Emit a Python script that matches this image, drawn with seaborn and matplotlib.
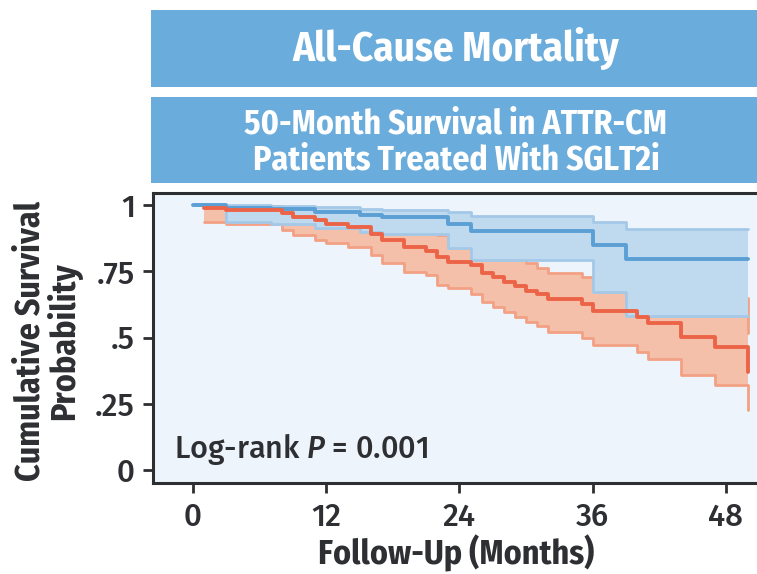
import numpy as np
import pandas as pd
import seaborn as sns
import matplotlib
matplotlib.use("Agg")
import matplotlib.pyplot as plt
from matplotlib import font_manager as fm
from matplotlib.patches import Rectangle

# ---------------- data ----------------
blue_t = [0, 3, 7, 11, 15, 17, 23, 25, 36, 39, 50]
blue_s = [1.0, 0.990, 0.985, 0.975, 0.962, 0.954, 0.927, 0.901, 0.849, 0.796, 0.796]
blue_lo = [1.0, 0.937, 0.927, 0.912, 0.899, 0.889, 0.837, 0.792, 0.670, 0.580, 0.580]
blue_hi = [1.0, 1.0, 0.998, 0.994, 0.985, 0.981, 0.975, 0.960, 0.937, 0.908, 0.908]

red_t = [1, 3, 8, 9, 11, 12, 14, 16, 17, 19, 21, 22, 23, 25, 26, 27, 28, 29, 30,
         31, 32, 35, 36, 40, 41, 44, 47, 50]
red_s = [0.990, 0.981, 0.969, 0.956, 0.943, 0.928, 0.916, 0.891, 0.868, 0.840,
         0.828, 0.805, 0.786, 0.774, 0.742, 0.727, 0.711, 0.696, 0.677, 0.664,
         0.645, 0.627, 0.600, 0.579, 0.555, 0.501, 0.465, 0.371]
red_hi = [1.0, 0.998, 0.99, 0.985, 0.978, 0.97, 0.96, 0.945, 0.93, 0.91, 0.90,
          0.887, 0.87, 0.86, 0.83, 0.815, 0.80, 0.795, 0.78, 0.761, 0.745, 0.729,
          0.71, 0.69, 0.67, 0.66, 0.649, 0.517]
red_lo = [0.935, 0.927, 0.904, 0.887, 0.868, 0.855, 0.843, 0.811, 0.78, 0.747,
          0.736, 0.698, 0.685, 0.665, 0.635, 0.616, 0.597, 0.578, 0.56, 0.543,
          0.522, 0.497, 0.472, 0.447, 0.418, 0.358, 0.321, 0.226]

x_ticks = [0, 12, 24, 36, 48]
y_ticks = [0, 0.25, 0.5, 0.75, 1.0]
y_tick_labels = ["0", ".25", ".5", ".75", "1"]

title = "All-Cause Mortality"
subtitle_lines = ["50-Month Survival in ATTR-CM", "Patients Treated With SGLT2i"]
annot = "Log-rank $P$ = 0.001"
xlabel = "Follow-Up (Months)"
ylabel = "Cumulative Survival\nProbability"

# ---------------- style ----------------
sns.set_theme(style="white")
names = {f.name for f in fm.fontManager.ttflist}

def pick(cands):
    for c in cands:
        if c in names:
            return c
    return "DejaVu Sans"

reg = pick(["Fira Sans", "Open Sans", "DejaVu Sans"])
bold = pick(["Fira Sans Condensed", "IBM Plex Sans Condensed", "DejaVu Sans"])
plt.rcParams["font.family"] = [reg, "DejaVu Sans"]
plt.rcParams["font.weight"] = 500
plt.rcParams["mathtext.fontset"] = "custom"
plt.rcParams["mathtext.rm"] = reg + ":medium"
plt.rcParams["mathtext.it"] = reg + ":italic:medium"

TXT = "#2e2f33"
BANNER = "#6aacdb"
BG = "#edf4fb"
BLUE = "#5b9fd5"
BLUE_FILL = "#bfdaef"
BLUE_EDGE = "#a4c9e8"
RED = "#ec6448"
RED_FILL = "#f5c0aa"
RED_EDGE = "#f2a185"

W, H = 757, 574
fig = plt.figure(figsize=(W / 100, H / 100), dpi=100)
fig.patch.set_facecolor("white")

def fx(px):
    return px / W

def fy(py):
    return 1 - py / H

# banners
fig.patches.append(Rectangle((fx(151), fy(87)), fx(700), 77 / H, transform=fig.transFigure,
                             facecolor=BANNER, edgecolor="none", zorder=0))
fig.patches.append(Rectangle((fx(151), fy(183)), fx(700), 86 / H, transform=fig.transFigure,
                             facecolor=BANNER, edgecolor="none", zorder=0))
fig.text(fx(456), fy(61), title, color="white", fontsize=29.5, fontweight="bold",
         family=[bold, "DejaVu Sans"], ha="center", va="baseline")
fig.text(fx(456), fy(133), subtitle_lines[0], color="white", fontsize=24.3, fontweight="bold",
         family=[bold, "DejaVu Sans"], ha="center", va="baseline")
fig.text(fx(456), fy(169), subtitle_lines[1], color="white", fontsize=24.3, fontweight="bold",
         family=[bold, "DejaVu Sans"], ha="center", va="baseline")

# axes
ax = fig.add_axes([fx(153), fy(483), fx(757 - 153), (483 - 193) / H])
ax.set_facecolor(BG)

x0, xs = 193, 11.1
ax.set_xlim((153 - x0) / xs, (757 - x0) / xs)
ax.set_ylim((470 - 483) / 265, (470 - 193) / 265)

blue_df = pd.DataFrame({"t": blue_t, "s": blue_s, "lo": blue_lo, "hi": blue_hi})
red_df = pd.DataFrame({"t": red_t, "s": red_s, "lo": red_lo, "hi": red_hi})

# red band
ax.fill_between(red_df["t"], red_df["lo"], red_df["hi"], step="post", color=RED_FILL, lw=0, zorder=1)
for col in ["lo", "hi"]:
    sns.lineplot(data=red_df, x="t", y=col, ax=ax, drawstyle="steps-post", estimator=None,
                 color=RED_EDGE, lw=2, zorder=2)
# blue band
ax.fill_between(blue_df["t"], blue_df["lo"], blue_df["hi"], step="post", color=BLUE_FILL, lw=0, zorder=3)
for col in ["lo", "hi"]:
    sns.lineplot(data=blue_df, x="t", y=col, ax=ax, drawstyle="steps-post", estimator=None,
                 color=BLUE_EDGE, lw=2, zorder=4)
# survival lines
sns.lineplot(data=blue_df, x="t", y="s", ax=ax, drawstyle="steps-post", estimator=None,
             color=BLUE, lw=2.8, zorder=5)
sns.lineplot(data=red_df, x="t", y="s", ax=ax, drawstyle="steps-post", estimator=None,
             color=RED, lw=2.8, zorder=6)

ax.set_xticks(x_ticks)
ax.set_xticklabels([str(v) for v in x_ticks])
ax.set_yticks(y_ticks)
ax.set_yticklabels(y_tick_labels)
ax.tick_params(axis="both", which="major", direction="out", length=7, width=2,
               color=TXT, labelcolor=TXT, labelsize=22.5, left=True, bottom=True)
ax.tick_params(axis="y", pad=6)
ax.tick_params(axis="x", pad=7)
for side in ["left", "bottom", "top"]:
    ax.spines[side].set_color(TXT)
    ax.spines[side].set_linewidth(2.2)
ax.spines["right"].set_visible(False)
ax.set_xlabel("")
ax.set_ylabel("")

ax.text((174 - x0) / xs, (470 - 458) / 265, annot, fontsize=22, color=TXT,
        ha="left", va="baseline", zorder=7)

fig.text(fx(456), fy(564), xlabel, fontsize=24.4, fontweight="bold", color=TXT,
         family=[bold, "DejaVu Sans"], ha="center", va="baseline")
fig.text(fx(48), fy(341), ylabel, fontsize=24.4, fontweight="bold", color=TXT,
         family=[bold, "DejaVu Sans"], ha="center", va="center", rotation=90,
         multialignment="center", linespacing=0.95)

fig.savefig("out.png", dpi=100, facecolor="white")
